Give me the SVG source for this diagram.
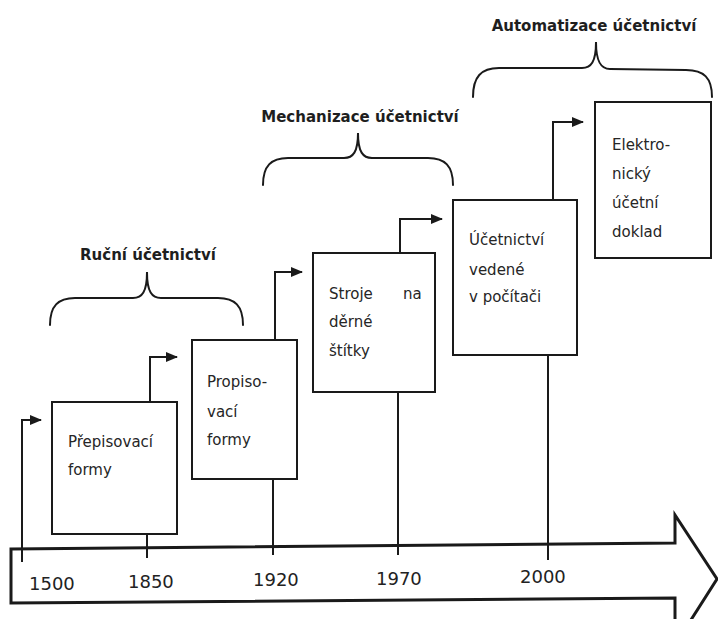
<svg xmlns="http://www.w3.org/2000/svg" width="718" height="619" viewBox="0 0 718 619">
<style>
.box{fill:#fff;stroke:#1a1a1a;stroke-width:2}
.ln{fill:none;stroke:#1a1a1a;stroke-width:2}
.br{fill:none;stroke:#1a1a1a;stroke-width:2;stroke-linecap:round}
.t{font-family:"DejaVu Sans",Verdana,sans-serif;font-size:15px;fill:#262626}
.h{font-family:"DejaVu Sans",Verdana,sans-serif;font-size:15px;font-weight:bold;fill:#1e1e1e;text-anchor:middle}
.y{font-family:"DejaVu Sans",Verdana,sans-serif;font-size:18px;fill:#222}
</style>
<defs>
<marker id="ah" viewBox="0 0 12 10" refX="11" refY="5" markerWidth="12" markerHeight="10" markerUnits="userSpaceOnUse" orient="auto">
<path d="M0,0 L12,5 L0,10 Z" fill="#1a1a1a"/>
</marker>
</defs>
<rect width="718" height="619" fill="#fff"/>

<g id="timeline">
<polygon points="11,549 675,543 675,515 717,579 675,645 675,598 11,603" fill="#fff" stroke="#1a1a1a" stroke-width="3" stroke-linejoin="miter"/>
<text class="y" x="29" y="590">1500</text>
<text class="y" x="128" y="588">1850</text>
<text class="y" x="253" y="586">1920</text>
<text class="y" x="376" y="585">1970</text>
<text class="y" x="520" y="583">2000</text>
</g>

<g id="connectors">
<path class="ln" d="M22,562 L22,420 L41,420" marker-end="url(#ah)"/>
<path class="ln" d="M147,534 L147,558"/>
<path class="ln" d="M150,402 L150,357 L177,357" marker-end="url(#ah)"/>
<path class="ln" d="M273,479 L273,555"/>
<path class="ln" d="M275,340 L275,272 L302,272" marker-end="url(#ah)"/>
<path class="ln" d="M398,392 L398,555"/>
<path class="ln" d="M400,253 L400,219 L442,219" marker-end="url(#ah)"/>
<path class="ln" d="M548,355 L548,560"/>
<path class="ln" d="M553,200 L553,122 L583,122" marker-end="url(#ah)"/>
</g>

<g id="brace-rucni">
<path class="br" d="M50,325 C50,306 58,298 75,298 L133,298 C142,298 147,292 147,272 C147,292 152,298 161,298 L218,298 C235,298 243,306 243,325"/>
<text class="h" x="148" y="260">Ruční účetnictví</text>
</g>
<g id="brace-mechanizace">
<path class="br" d="M263,185 C263,166 271,158 288,158 L344,158 C353,158 358,152 358,133 C358,152 363,158 372,158 L428,158 C445,158 453,166 453,185"/>
<text class="h" x="360" y="122">Mechanizace účetnictví</text>
</g>
<g id="brace-automatizace">
<path class="br" d="M473,97 C473,77 481,68 499,68 L582,68 C591,68 596,62 596,42 C596,62 601,69 610,69 L686,70 C704,70 712,78 712,97"/>
<text class="h" x="594" y="31">Automatizace účetnictví</text>
</g>

<g id="node-prepisovaci">
<rect class="box" x="52" y="402" width="125" height="132"/>
<text class="t" x="68" y="447">Přepisovací</text>
<text class="t" x="68" y="475">formy</text>
</g>
<g id="node-propisovaci">
<rect class="box" x="192" y="340" width="105" height="139"/>
<text class="t" x="207" y="387">Propiso-</text>
<text class="t" x="207" y="417">vací</text>
<text class="t" x="207" y="445">formy</text>
</g>
<g id="node-stroje">
<rect class="box" x="313" y="253" width="122" height="139"/>
<text class="t" x="329" y="299">Stroje</text>
<text class="t" x="403" y="299">na</text>
<text class="t" x="329" y="327">děrné</text>
<text class="t" x="329" y="356">štítky</text>
</g>
<g id="node-ucetnictvi">
<rect class="box" x="453" y="200" width="124" height="155"/>
<text class="t" x="469" y="245">Účetnictví</text>
<text class="t" x="469" y="275">vedené</text>
<text class="t" x="469" y="302">v počítači</text>
</g>
<g id="node-elektronicky">
<rect class="box" x="595" y="102" width="116" height="156"/>
<text class="t" x="612" y="150">Elektro-</text>
<text class="t" x="612" y="179">nický</text>
<text class="t" x="612" y="208">účetní</text>
<text class="t" x="612" y="237">doklad</text>
</g>
</svg>
